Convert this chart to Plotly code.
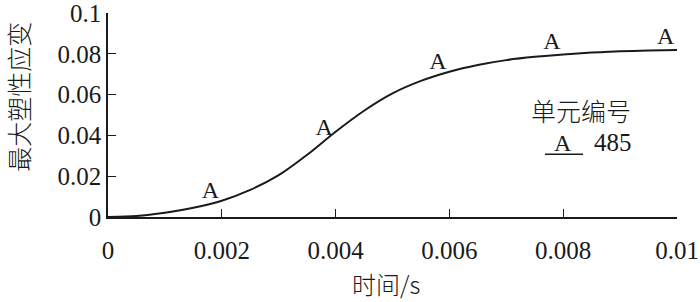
import plotly.graph_objects as go

# curve: time (s) vs max plastic strain
time_s = [0, 0.0005, 0.001, 0.0015, 0.002, 0.0025, 0.003, 0.0035, 0.004, 0.0045,
          0.005, 0.0055, 0.006, 0.0065, 0.007, 0.0075, 0.008, 0.0085, 0.009, 0.0095, 0.01]
strain = [0, 0.0005, 0.0021, 0.0045, 0.0080, 0.0133, 0.0205, 0.0305, 0.0418, 0.0521,
          0.0606, 0.0667, 0.0712, 0.0745, 0.0769, 0.0785, 0.0797, 0.0806, 0.0813, 0.0816, 0.0819]

# "A" markers of element 485
marker_t = [0.0018, 0.0038, 0.0058, 0.0078, 0.0098]
marker_y = [0.0066, 0.0373, 0.0695, 0.0793, 0.0818]
marker_label = "A"
element_id = "485"
legend_title = "单元编号"

x_ticks = [0, 0.002, 0.004, 0.006, 0.008, 0.01]
x_ticklabels = ["0", "0.002", "0.004", "0.006", "0.008", "0.01"]
y_ticks = [0, 0.02, 0.04, 0.06, 0.08, 0.1]
y_ticklabels = ["0", "0.02", "0.04", "0.06", "0.08", "0.1"]

SERIF = "Liberation Serif"
CJK = "Noto Sans CJK SC"
INK = "#1a1a1a"

fig = go.Figure()
fig.add_trace(go.Scatter(x=time_s, y=strain, mode="lines",
                         line=dict(color=INK, width=2, shape="spline", smoothing=0.8),
                         showlegend=False, hoverinfo="skip"))
fig.add_trace(go.Scatter(x=marker_t, y=marker_y, mode="text",
                         text=[marker_label] * len(marker_t),
                         textposition="top center",
                         textfont=dict(family=SERIF, size=24, color=INK),
                         cliponaxis=False, showlegend=False))

L, R, T, B = 108, 23, 13, 84.5
W, H = 700, 302
pw, ph = W - L - R, H - T - B

def fx(px):
    return (px - L) / pw

def fy(py):
    return (H - B - py) / ph

axis_common = dict(showgrid=False, zeroline=False, showline=True, linecolor=INK, linewidth=1.5,
                   ticks="inside", ticklen=8, tickwidth=1.3, tickcolor=INK,
                   tickfont=dict(family=SERIF, size=25, color=INK), mirror=False,
                   ticklabeloverflow="allow", automargin=False)

def note(text, px, py, family, size, angle=0):
    return dict(text=text, xref="paper", yref="paper", x=fx(px), y=fy(py),
                xanchor="center", yanchor="middle", textangle=angle, showarrow=False,
                font=dict(family=family, size=size, color=INK, weight=300))

fig.update_layout(
    width=W, height=H,
    margin=dict(l=L, r=R, t=T, b=B),
    paper_bgcolor="white", plot_bgcolor="white",
    xaxis=dict(range=[0, 0.01], tickvals=x_ticks, ticktext=x_ticklabels,
               ticklabelstandoff=10, **axis_common),
    yaxis=dict(range=[0, 0.1], tickvals=y_ticks, ticktext=y_ticklabels, **axis_common),
    annotations=[
        note("时间/s", 386, 284, CJK, 24),
        note("最大塑性应变", 18, 97, CJK, 25, -90),
        note(legend_title, 581, 110, CJK, 25),
        note(marker_label, 563, 143, SERIF, 24),
        note(element_id, 613, 143, SERIF, 25),
    ],
    shapes=[dict(type="line", xref="paper", yref="paper", x0=fx(545), x1=fx(583),
                 y0=fy(154.5), y1=fy(154.5), line=dict(color=INK, width=1.5))],
)

fig.write_html("out.html", config={"displayModeBar": False},
               post_script="document.body.style.margin='0';document.body.style.padding='0';")
